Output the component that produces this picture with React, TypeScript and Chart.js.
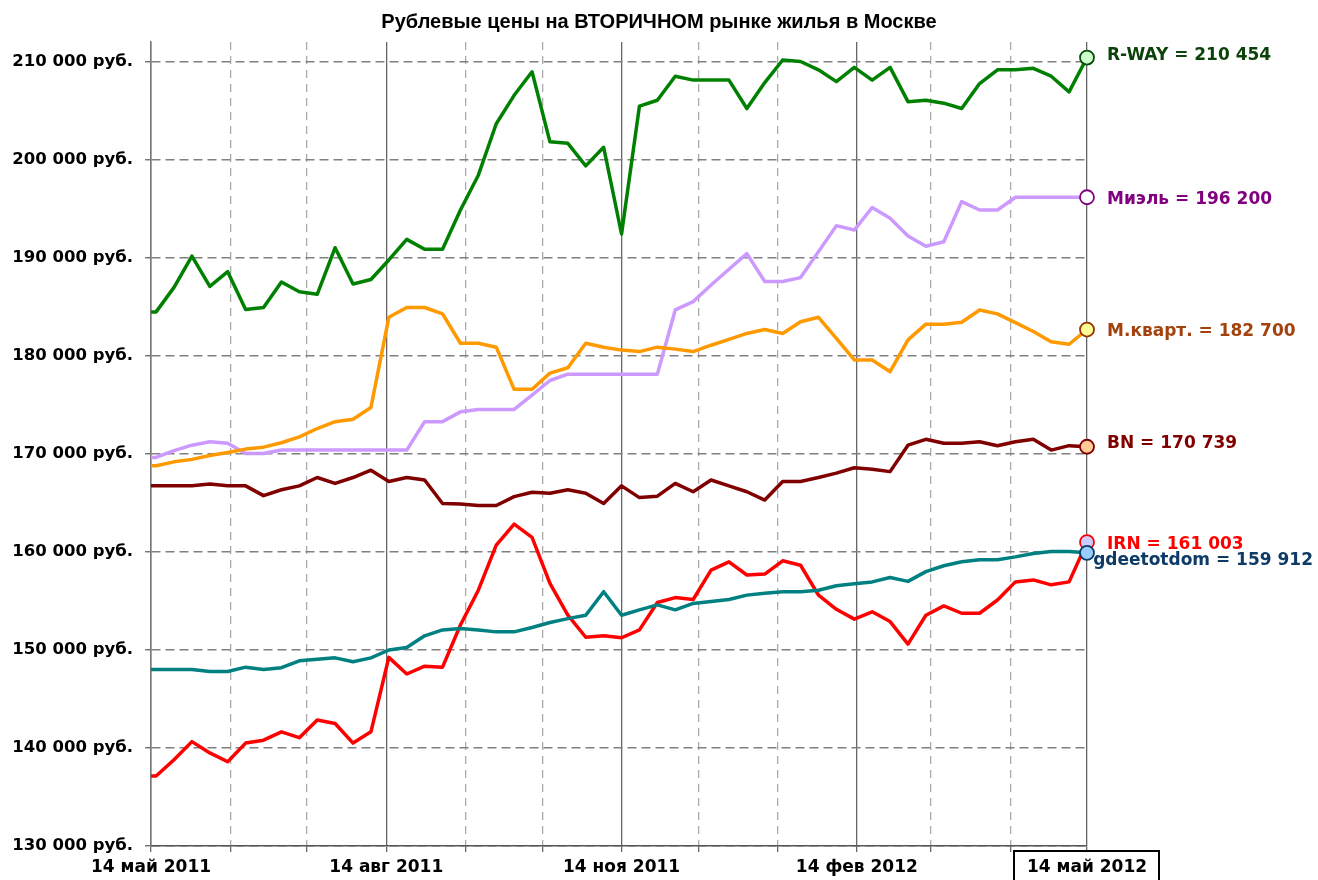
import React, { useEffect, useRef } from "react";
import { Chart, registerables } from "chart.js";

Chart.register(...registerables);

const TITLE = "Рублевые цены на ВТОРИЧНОМ рынке жилья в Москве";

const SERIES_NAMES = ["R-WAY", "Миэль", "М.кварт.", "BN", "IRN", "gdeetotdom"];

// x axis: days counted from 14 May 2011
const AXIS_MIN_DAY = 0;
const AXIS_MAX_DAY = 366;
const FIRST_WEEK_DAY = 2; // Monday 16 May 2011, then weekly
const X_TICK_DAYS = [0, 31, 61, 92, 123, 153, 184, 214, 245, 276, 305, 336, 366];
const X_TICK_LABELS = ["14 май 2011", "", "", "14 авг 2011", "", "", "14 ноя 2011", "", "", "14 фев 2012", "", "", "14 май 2012"];
const X_MAJOR_DAYS = [0, 92, 184, 276, 366];

const Y_MIN = 130000;
const Y_MAX = 212040;
const Y_TICKS = [130000, 140000, 150000, 160000, 170000, 180000, 190000, 200000, 210000];

const RWAY = [184500, 187000, 190200, 187100, 188600, 184750, 184950, 187550, 186550, 186300, 191050, 187350, 187800, 189800, 191900, 190900, 190900, 194900, 198450, 203700, 206600, 209000, 201850, 201700, 199400, 201300, 192450, 205500, 206100, 208550, 208150, 208150, 208150, 205250, 207900, 210200, 210050, 209200, 208000, 209450, 208150, 209450, 205950, 206100, 205800, 205250, 207800, 209200, 209200, 209350, 208550, 206950, 210454];

const MIEL = [169650, 170350, 170900, 171250, 171100, 170050, 170050, 170400, 170400, 170400, 170400, 170400, 170400, 170400, 170400, 173300, 173300, 174300, 174550, 174550, 174550, 176000, 177500, 178150, 178150, 178150, 178150, 178150, 178150, 184700, 185550, 187250, 188850, 190450, 187600, 187600, 188000, 190650, 193300, 192850, 195150, 194050, 192250, 191200, 191650, 195750, 194900, 194900, 196200, 196200, 196200, 196200, 196200];

const MKVART = [168800, 169200, 169450, 169850, 170150, 170500, 170700, 171150, 171750, 172600, 173300, 173550, 174750, 183950, 184950, 184950, 184300, 181300, 181300, 180900, 176600, 176600, 178250, 178800, 181300, 180900, 180600, 180450, 180900, 180700, 180450, 181100, 181700, 182300, 182700, 182300, 183500, 183950, 181800, 179600, 179600, 178400, 181650, 183250, 183250, 183450, 184700, 184300, 183400, 182500, 181450, 181200, 182700];

const BN = [166750, 166750, 166750, 166950, 166750, 166750, 165750, 166350, 166750, 167600, 167000, 167600, 168350, 167200, 167600, 167350, 164950, 164900, 164750, 164750, 165650, 166100, 166000, 166350, 166000, 164950, 166750, 165550, 165700, 167000, 166150, 167350, 166750, 166150, 165300, 167200, 167200, 167600, 168050, 168600, 168450, 168200, 170900, 171500, 171100, 171100, 171250, 170850, 171250, 171500, 170400, 170850, 170739];

const IRN = [137150, 138800, 140650, 139500, 138600, 140500, 140800, 141650, 141050, 142850, 142500, 140500, 141650, 149250, 147550, 148350, 148250, 152550, 156100, 160700, 162850, 161500, 156800, 153550, 151300, 151450, 151250, 152050, 154850, 155350, 155150, 158150, 159000, 157650, 157750, 159100, 158650, 155600, 154150, 153150, 153900, 152900, 150600, 153550, 154500, 153750, 153750, 155100, 156950, 157150, 156650, 156950, 161003];

const GDEETOTDOM = [148000, 148000, 148000, 147800, 147800, 148250, 148000, 148200, 148900, 149050, 149200, 148800, 149200, 150000, 150250, 151450, 152050, 152200, 152050, 151850, 151850, 152300, 152800, 153200, 153550, 155950, 153550, 154100, 154600, 154100, 154750, 154950, 155150, 155600, 155800, 155950, 155950, 156100, 156550, 156750, 156950, 157400, 157000, 158000, 158600, 159000, 159200, 159200, 159500, 159850, 160050, 160050, 159912];

const SERIES_VALUES = [RWAY, MIEL, MKVART, BN, IRN, GDEETOTDOM];

const LINE_COLORS = ["#008000", "#cc99ff", "#ff9900", "#800000", "#ff0000", "#008080"];
const MARKER_FILLS = ["#ccffcc", "#ffffff", "#ffff99", "#ffcc99", "#ccccff", "#99ccff"];
const MARKER_BORDERS = ["#0a4d0a", "#800080", "#993300", "#800000", "#ff0000", "#0d3b66"];
const LABEL_COLORS = ["#0b430b", "#800080", "#a4420e", "#800000", "#ff0000", "#0d3b66"];
const LABEL_DY = [-2, 2, 2, -3, 2, 8];

const FONT_FAMILY = "'DejaVu Sans', Verdana, sans-serif";

function fmt(n: number): string {
  return String(n).replace(/\B(?=(\d{3})+(?!\d))/g, " ");
}

function buildPoints(values: number[]) {
  const pts = [{ x: AXIS_MIN_DAY, y: values[0] }];
  values.forEach((v, i) => pts.push({ x: FIRST_WEEK_DAY + 7 * i, y: v }));
  return pts;
}

const overlayPlugin = {
  id: "overlay",
  afterDatasetsDraw(chart: any) {
    const ctx = chart.ctx as CanvasRenderingContext2D;
    ctx.save();
    const ends: { x: number; y: number }[] = [];
    chart.data.datasets.forEach((_ds: any, i: number) => {
      const meta = chart.getDatasetMeta(i);
      const pt = meta.data[meta.data.length - 1];
      ends.push({ x: pt.x, y: pt.y });
      ctx.beginPath();
      ctx.arc(pt.x, pt.y, 7, 0, Math.PI * 2);
      ctx.fillStyle = MARKER_FILLS[i];
      ctx.fill();
      ctx.lineWidth = 1.8;
      ctx.strokeStyle = MARKER_BORDERS[i];
      ctx.stroke();
    });
    ctx.font = `bold 17px ${FONT_FAMILY}`;
    ctx.textBaseline = "middle";
    ctx.textAlign = "left";
    SERIES_NAMES.forEach((name, i) => {
      const vals = SERIES_VALUES[i];
      const text = `${name} = ${fmt(vals[vals.length - 1])}`;
      const w = ctx.measureText(text).width;
      let x = ends[i].x + 20;
      const maxX = chart.width - 5 - w;
      if (x > maxX) x = maxX;
      ctx.fillStyle = LABEL_COLORS[i];
      ctx.fillText(text, x, ends[i].y + LABEL_DY[i]);
    });
    ctx.restore();
  },
  afterDraw(chart: any) {
    const ctx = chart.ctx as CanvasRenderingContext2D;
    ctx.save();
    ctx.font = `bold 20px 'Liberation Sans', Arial, sans-serif`;
    ctx.fillStyle = "#000";
    ctx.textAlign = "center";
    ctx.textBaseline = "middle";
    ctx.fillText(TITLE, chart.width / 2, 22);
    const xs = chart.scales.x;
    const px = xs.getPixelForValue(AXIS_MAX_DAY);
    ctx.lineWidth = 2;
    ctx.strokeStyle = "#000";
    ctx.strokeRect(px - 73, xs.bottom - 29, 145, 40);
    ctx.restore();
  },
};

export default function App() {
  const ref = useRef<HTMLCanvasElement | null>(null);
  useEffect(() => {
    if (!ref.current) return;
    const chart = new Chart(ref.current, {
      type: "line",
      data: {
        datasets: SERIES_NAMES.map((name, i) => ({
          label: name,
          data: buildPoints(SERIES_VALUES[i]),
          borderColor: LINE_COLORS[i],
          backgroundColor: LINE_COLORS[i],
          borderWidth: 3.5,
          pointRadius: 0,
          tension: 0,
          borderJoinStyle: "round",
          order: SERIES_NAMES.length - i,
        })),
      },
      options: {
        responsive: false,
        animation: false,
        devicePixelRatio: 1,
        layout: { padding: { top: 42, right: 231, left: 0, bottom: 0 } },
        plugins: {
          legend: { display: false },
          title: { display: false },
          tooltip: { enabled: false },
        },
        scales: {
          x: {
            type: "linear",
            min: AXIS_MIN_DAY,
            max: AXIS_MAX_DAY,
            afterBuildTicks: (s: any) => {
              s.ticks = X_TICK_DAYS.map((v) => ({ value: v }));
            },
            afterFit: (s: any) => {
              s.height = 34;
            },
            ticks: {
              autoSkip: false,
              maxRotation: 0,
              minRotation: 0,
              padding: 5,
              color: "#000",
              font: { family: FONT_FAMILY, weight: "bold", size: 17 },
              callback: (_v: any, i: number) => X_TICK_LABELS[i],
            },
            grid: {
              color: (c: any) => (c.tick && X_MAJOR_DAYS.includes(c.tick.value) ? "#666666" : "#aaaaaa"),
              lineWidth: 1.3,
              tickLength: 6,
              tickColor: "#666666",
              tickWidth: 1.3,
            },
            border: {
              color: "#555555",
              width: 1.5,
              dash: (c: any) => (c.tick && !X_MAJOR_DAYS.includes(c.tick.value) ? [8, 6] : []),
            },
          },
          y: {
            type: "linear",
            min: Y_MIN,
            max: Y_MAX,
            afterBuildTicks: (s: any) => {
              s.ticks = Y_TICKS.map((v) => ({ value: v }));
            },
            afterFit: (s: any) => {
              s.width = 151;
            },
            ticks: {
              padding: 12,
              color: "#000",
              font: { family: FONT_FAMILY, weight: "bold", size: 16.5 },
              callback: (v: any) => `${fmt(Number(v))} руб.`,
            },
            grid: {
              color: "#808080",
              lineWidth: 1.5,
              tickLength: 6,
              tickColor: "#666666",
              tickWidth: 1.3,
            },
            border: {
              color: "#777777",
              width: 1.5,
              dash: (c: any) => (c.tick ? [9, 5] : []),
            },
          },
        },
      },
      plugins: [overlayPlugin],
    } as any);
    return () => chart.destroy();
  }, []);
  return (
    <div style={{ position: "absolute", left: 0, top: 0, width: 1318, height: 880, background: "#fff" }}>
      <canvas ref={ref} width={1318} height={880} style={{ display: "block" }} />
    </div>
  );
}
